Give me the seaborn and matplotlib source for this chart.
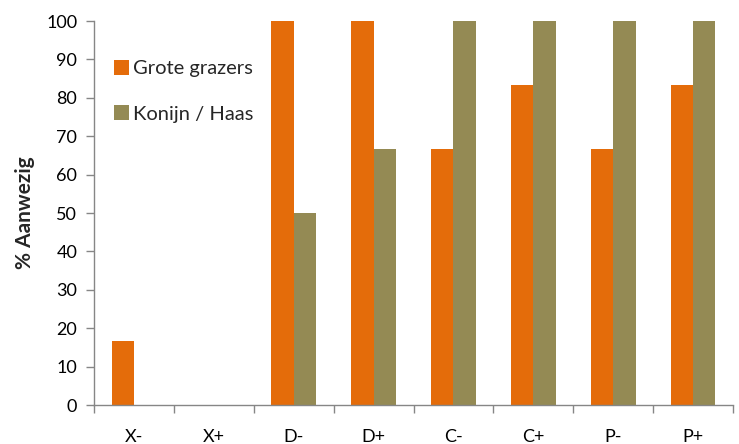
import matplotlib
matplotlib.use("Agg")
import matplotlib.pyplot as plt
import seaborn as sns
import pandas as pd
import numpy as np

categories = ["X-", "X+", "D-", "D+", "C-", "C+", "P-", "P+"]
grote_grazers = [16.7, 0, 100, 100, 66.7, 83.3, 66.7, 83.3]
konijn_haas = [0, 0, 50, 66.7, 100, 100, 100, 100]
series_names = ["Grote grazers", "Konijn / Haas"]
colors = ["#E46C0A", "#948A54"]
y_ticks = list(range(0, 101, 10))

df = pd.DataFrame({
    "cat": categories * 2,
    "val": grote_grazers + konijn_haas,
    "serie": [series_names[0]] * len(categories) + [series_names[1]] * len(categories),
})

sns.set_style("white")
plt.rcParams["font.family"] = ["Lato", "DejaVu Sans"]

fig = plt.figure(figsize=(7.39, 4.44), dpi=100)
ax = fig.add_axes([0.1272, 0.0878, 0.8647, 0.8649])

sns.barplot(data=df, x="cat", y="val", hue="serie", order=categories,
            hue_order=series_names, palette=colors, width=0.56,
            saturation=1, ax=ax, edgecolor="none")

ax.set_ylim(0, 100)
ax.set_xlim(-0.5, len(categories) - 0.5)
ax.set_yticks(y_ticks)
ax.set_yticklabels([str(t) for t in y_ticks], fontsize=13, color="#000000")
ax.set_xlabel("")
ax.set_ylabel("% Aanwezig", fontsize=15, fontweight="bold", labelpad=8)

# category labels centered, tick marks at category boundaries
ax.set_xticks(range(len(categories)))
ax.set_xticklabels(categories, fontsize=13, color="#000000")
ax.tick_params(axis="x", which="major", length=0, pad=17)
ax.set_xticks(np.arange(-0.5, len(categories)), minor=True)
ax.tick_params(axis="x", which="minor", length=6, width=1, color="#868686",
               direction="out", bottom=True)
ax.tick_params(axis="y", length=6, width=1, color="#868686", direction="out",
               left=True, pad=6)

for side in ["top", "right"]:
    ax.spines[side].set_visible(False)
for side in ["left", "bottom"]:
    ax.spines[side].set_color("#868686")
    ax.spines[side].set_linewidth(1)

ax.legend(loc="upper left", bbox_to_anchor=(0.018, 0.92), frameon=False,
          fontsize=14.5, handlelength=0.75, handleheight=0.75,
          labelspacing=1.4, handletextpad=0.2, borderaxespad=0)

fig.savefig("out.png", dpi=100)
